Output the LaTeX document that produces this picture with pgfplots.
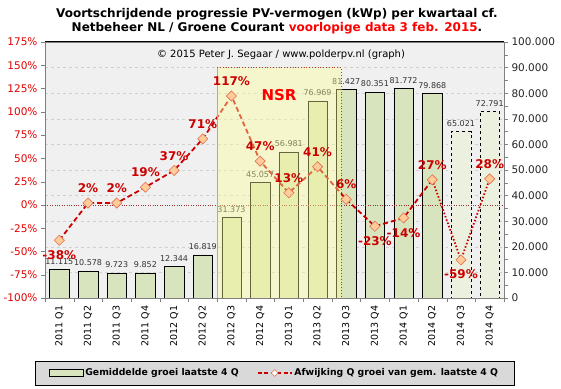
\documentclass[border=0pt]{standalone}
\usepackage{pgfplots}
\pgfplotsset{compat=1.18}
\usepackage{pgfplotstable}
\usetikzlibrary{shapes.geometric}
\usepackage{fontspec}
\setmainfont{DejaVu Sans}
\definecolor{bgcol}{HTML}{F0F0F0}
\definecolor{barcol}{HTML}{D7E4BD}
\definecolor{barlight}{HTML}{EBF1DE}
\definecolor{linecol}{HTML}{CC0000}
\definecolor{mfill}{HTML}{FFCC99}
\definecolor{mdraw}{HTML}{E07050}
\definecolor{labred}{HTML}{CC0000}
\definecolor{tickred}{HTML}{E00000}
\definecolor{nsrfill}{HTML}{FFFF99}
\definecolor{nsrleft}{HTML}{C8A878}
\definecolor{nsrdot}{HTML}{B04010}
\definecolor{legfill}{HTML}{D9D9D9}
\definecolor{gridcol}{HTML}{D0D0D0}
\definecolor{zerocol}{HTML}{993333}

\pgfplotstableread{
x val lab
0 11115 11.115
1 10578 10.578
2 9723 9.723
3 9852 9.852
4 12344 12.344
5 16819 16.819
6 31373 31.373
7 45057 45.057
8 56981 56.981
9 76969 76.969
10 81427 81.427
11 80351 80.351
12 81772 81.772
13 79868 79.868
}\barsolid
\pgfplotstableread{
x val lab
14 65021 65.021
15 72791 72.791
}\bardash
\pgfplotstableread{
x y
0 -38
1 2
2 2
3 19
4 37
5 71
6 117
7 47
8 13
9 41
10 6
11 -23
12 -14
13 27
14 -59
15 28
}\linedata
\pgfplotstableread{
x y lab
1 2 2\%
2 2 2\%
3 19 19\%
4 37 37\%
5 71 71\%
6 117 117\%
7 47 47\%
8 13 13\%
9 41 41\%
10 6 6\%
13 27 27\%
15 28 28\%
}\labpos
\pgfplotstableread{
x y lab
0 -38 -38\%
11 -23 -23\%
12 -14 -14\%
14 -59 -59\%
}\labneg

\begin{document}
\begin{tikzpicture}
\useasboundingbox (0,0) rectangle (561bp,389bp);
% ---------- bars, right scale ----------
\begin{axis}[
  at={(45bp,91bp)}, anchor=south west,
  scale only axis, width=459bp, height=256bp,
  xmin=-0.5, xmax=15.5, ymin=0, ymax=100000,
  scaled y ticks=false,
  axis background/.style={fill=bgcol},
  axis line style={draw=gray},
  xtick pos=left, ytick pos=right,
  tick align=outside,
  tick style={draw=gray},
  major tick length=4bp, minor tick length=4bp,
  ytick={0,10000,20000,30000,40000,50000,60000,70000,80000,90000,100000},
  yticklabels={0,10.000,20.000,30.000,40.000,50.000,60.000,70.000,80.000,90.000,100.000},
  minor ytick={5000,15000,25000,35000,45000,55000,65000,75000,85000,95000},
  yticklabel style={font=\fontsize{10.5bp}{12bp}\selectfont, color=black!85},
  ymajorgrids, major grid style={dashed, draw=gridcol},
  xtick={0,1,2,3,4,5,6,7,8,9,10,11,12,13,14,15},
  xticklabels={2011 Q1,2011 Q2,2011 Q3,2011 Q4,2012 Q1,2012 Q2,2012 Q3,2012 Q4,2013 Q1,2013 Q2,2013 Q3,2013 Q4,2014 Q1,2014 Q2,2014 Q3,2014 Q4},
  xticklabel style={rotate=90, anchor=east, font=\fontsize{9.5bp}{11bp}\selectfont},
  major x tick style={draw=none},
  minor xtick={-0.5,0.5,1.5,2.5,3.5,4.5,5.5,6.5,7.5,8.5,9.5,10.5,11.5,12.5,13.5,14.5,15.5},
]
\addplot[ybar, bar width=19.5bp, bar shift=0pt, fill=barcol, draw=black,
  nodes near coords, point meta=explicit symbolic,
  every node near coord/.append style={font=\fontsize{8bp}{9bp}\selectfont, color=black!80, anchor=south, inner ysep=5bp}]
  table[x=x, y=val, meta=lab] {\barsolid};
\addplot[ybar, bar width=19.5bp, bar shift=0pt, fill=barlight, draw=black, dashed,
  nodes near coords, point meta=explicit symbolic,
  every node near coord/.append style={font=\fontsize{8bp}{9bp}\selectfont, color=black!80, anchor=south, inner ysep=5bp, solid}]
  table[x=x, y=val, meta=lab] {\bardash};
\draw[black, line width=1bp] (rel axis cs:0,1) -- (rel axis cs:1,1);
\end{axis}
% ---------- line, left scale ----------
\begin{axis}[
  at={(45bp,91bp)}, anchor=south west,
  scale only axis, width=459bp, height=256bp,
  xmin=-0.5, xmax=15.5, ymin=-100, ymax=175,
  axis x line=none, axis y line*=left,
  axis line style={draw=gray, -},
  tick align=outside, tick style={draw=gray}, major tick length=4bp,
  ytick={-100,-75,-50,-25,0,25,50,75,100,125,150,175},
  yticklabels={-100\%,-75\%,-50\%,-25\%,0\%,25\%,50\%,75\%,100\%,125\%,150\%,175\%},
  yticklabel style={font=\fontsize{10.5bp}{12bp}\selectfont, color=tickred},
  clip=false,
  legend style={at={(0.5,-0.293)}, anchor=center, draw=black, fill=legfill,
    font=\bfseries\fontsize{9.3bp}{11bp}\selectfont, legend columns=2,
    /tikz/every even column/.append style={column sep=16bp},
    inner xsep=14bp, inner ysep=6bp},
]
\addplot[forget plot, zerocol, dotted, thin] coordinates {(-0.5,0) (15.5,0)};
\addplot[forget plot, linecol, line width=1.8bp, dash pattern=on 5bp off 3bp, restrict x to domain=0:13]
  table[x=x, y=y] {\linedata};
\addplot[forget plot, linecol, line width=1.8bp, dash pattern=on 1.5bp off 2bp, restrict x to domain=13:15]
  table[x=x, y=y] {\linedata};
\addplot[forget plot, only marks, mark=square*, mark size=3.6bp,
  mark options={rotate=45, fill=mfill, draw=mdraw, line width=0.6bp}]
  table[x=x, y=y] {\linedata};
\addplot[forget plot, only marks, mark=none,
  nodes near coords, point meta=explicit symbolic,
  every node near coord/.append style={font=\bfseries\fontsize{12bp}{14bp}\selectfont, color=labred, anchor=south, inner ysep=10bp, inner xsep=0pt}]
  table[x=x, y=y, meta=lab] {\labpos};
\addplot[forget plot, only marks, mark=none,
  nodes near coords, point meta=explicit symbolic,
  every node near coord/.append style={font=\bfseries\fontsize{12bp}{14bp}\selectfont, color=labred, anchor=north, inner ysep=10bp, inner xsep=0pt}]
  table[x=x, y=y, meta=lab] {\labneg};
% NSR overlay
\fill[nsrfill, opacity=0.4] (axis cs:5.5,-100) rectangle (axis cs:9.82,147.5);
\draw[nsrleft, line width=0.8bp] (axis cs:5.5,-100) -- (axis cs:5.5,147.5);
\draw[nsrdot, dotted, line width=0.8bp] (axis cs:5.5,147.5) -- (axis cs:9.82,147.5) -- (axis cs:9.82,-100);
\node[font=\bfseries\fontsize{15bp}{17bp}\selectfont, color=red] at (axis cs:7.66,118) {NSR};
% legend
\addlegendimage{legend image code/.code={\draw[fill=barcol, draw=black] (0bp,-3.5bp) rectangle (34bp,3.5bp);}}
\addlegendentry{Gemiddelde groei laatste 4 Q}
\addlegendimage{legend image code/.code={\draw[linecol, line width=1.6bp, dash pattern=on 4bp off 2.5bp] (0bp,0bp) -- (34bp,0bp);
  \node[diamond, draw=mdraw, fill=white, inner sep=1.4bp, line width=0.5bp] at (17bp,0bp) {};}}
\addlegendentry{Afwijking Q groei van gem. laatste 4 Q}
\end{axis}
% titles
\node[font=\bfseries\fontsize{12bp}{14bp}\selectfont, align=center] at (277bp,368bp)
  {Voortschrijdende progressie PV-vermogen (kWp) per kwartaal cf.\\Netbeheer NL / Groene Courant \textcolor{red}{voorlopige data 3 feb. 2015}.};
\node[font=\fontsize{10bp}{12bp}\selectfont] at (281bp,334bp) {© 2015 Peter J. Segaar / www.polderpv.nl (graph)};
\end{tikzpicture}
\end{document}
